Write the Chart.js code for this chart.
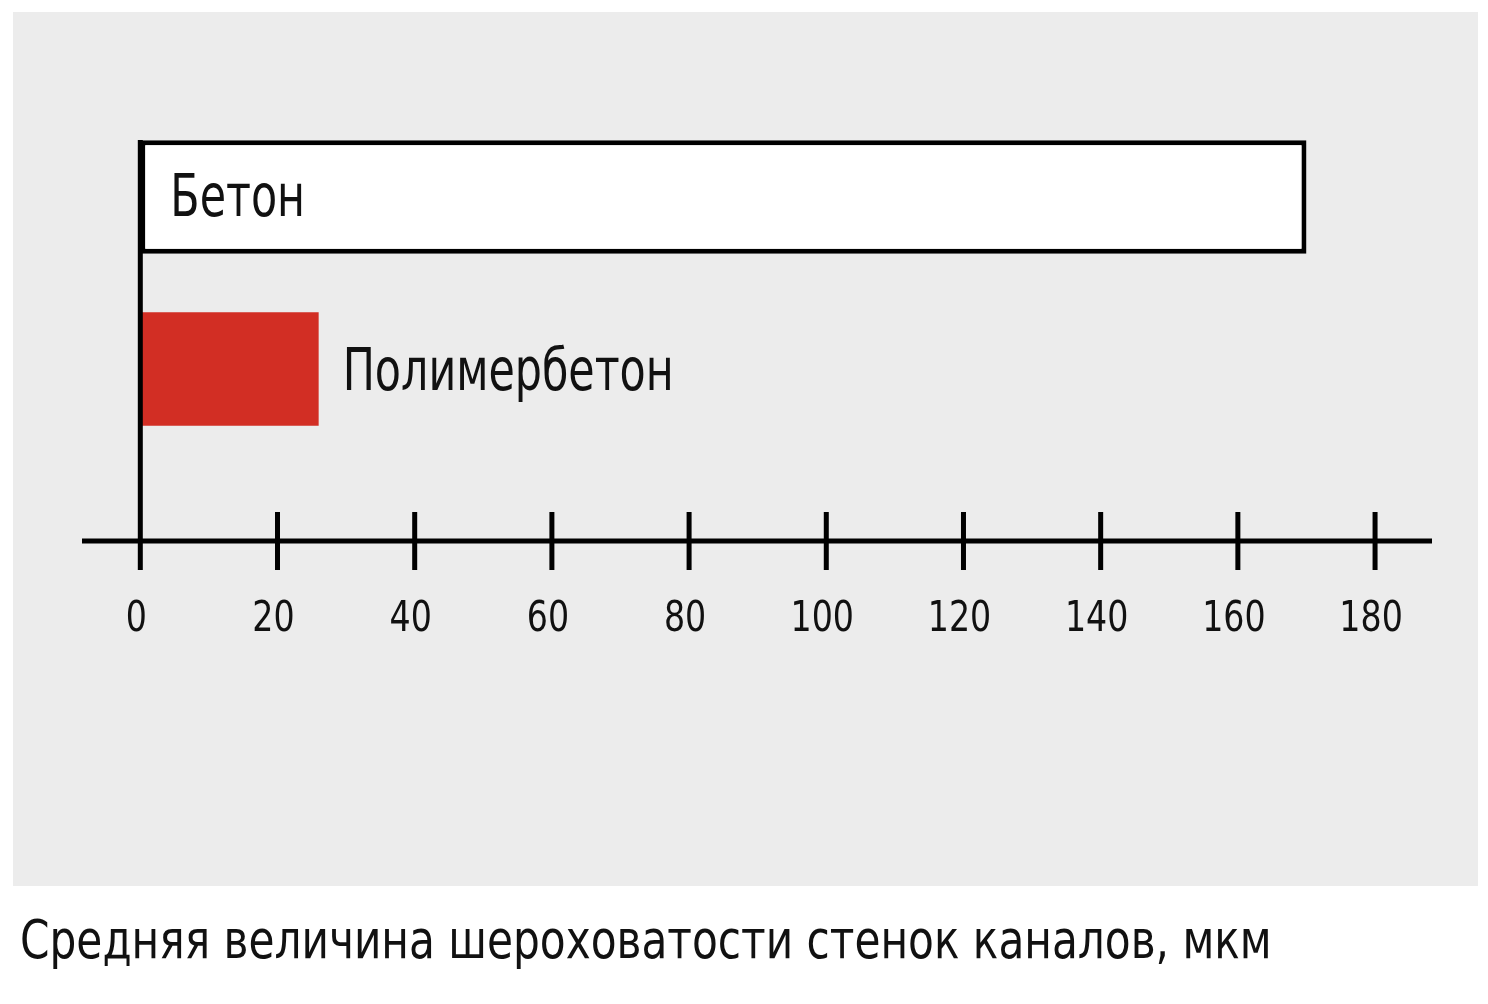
<!DOCTYPE html>
<html><head><meta charset="utf-8">
<script src="https://cdn.jsdelivr.net/npm/chart.js@4.4.0/dist/chart.umd.min.js"></script>
<style>
body{margin:0;background:#fff;width:1488px;height:1004px;position:relative;font-family:"DejaVu Sans Condensed","Liberation Sans Narrow",sans-serif}
#box{position:absolute;left:13px;top:12px;width:1465px;height:874px;background:#ececec}
#cap{position:absolute;left:20px;top:908px;font-size:54px;color:#111;transform:scaleX(0.87);transform-origin:left top;white-space:nowrap}
</style></head><body>
<div id="box"><canvas id="c" width="1465" height="874"></canvas></div>
<div id="cap">Средняя величина шероховатости стенок каналов, мкм</div>
<script>
const categories = ['Бетон', 'Полимербетон', ''];
const roughness = [170, 26, null];
const tickValues = [0, 20, 40, 60, 80, 100, 120, 140, 160, 180];

function narrowText(ctx, text, x, y, sx) {
  ctx.save();
  ctx.translate(x, y);
  ctx.scale(sx, 1);
  ctx.fillText(text, 0, 0);
  ctx.restore();
}

const drawAxis = {
  id: 'drawAxis',
  afterDatasetsDraw(chart) {
    const ctx = chart.ctx, x = chart.scales.x, y = chart.scales.y;
    const axisY = y.getPixelForValue(2);
    const x0 = x.getPixelForValue(0);
    ctx.save();
    ctx.strokeStyle = '#000';
    ctx.lineWidth = 5;
    ctx.beginPath();
    ctx.moveTo(chart.chartArea.left, axisY);
    ctx.lineTo(chart.chartArea.right, axisY);
    ctx.moveTo(x0, chart.getDatasetMeta(0).data[0].y - 57);
    ctx.lineTo(x0, axisY + 28);
    tickValues.forEach(v => {
      const px = x.getPixelForValue(v);
      ctx.moveTo(px, axisY - 29);
      ctx.lineTo(px, axisY + 29);
    });
    ctx.stroke();
    ctx.fillStyle = '#111';
    ctx.font = '42px "DejaVu Sans Condensed", sans-serif';
    ctx.textAlign = 'center';
    ctx.textBaseline = 'middle';
    tickValues.forEach(v => narrowText(ctx, String(v), x.getPixelForValue(v) - 4, axisY + 79, 0.88));
    // bar labels
    const m = chart.getDatasetMeta(0).data;
    ctx.font = '58px "DejaVu Sans Condensed", sans-serif';
    ctx.textAlign = 'left';
    narrowText(ctx, categories[0], x0 + 30, m[0].y + 4, 0.82);
    narrowText(ctx, categories[1], m[1].x + 24, m[1].y + 6, 0.82);
    ctx.restore();
  }
};

new Chart(document.getElementById('c'), {
  type: 'bar',
  data: {
    labels: categories,
    datasets: [{
      data: roughness,
      backgroundColor: ['#ffffff', '#d22e24', '#000'],
      borderColor: ['#000', '#d22e24', '#000'],
      borderWidth: [5, 0, 0],
      borderSkipped: false,
      categoryPercentage: 1,
      barPercentage: 0.66
    }]
  },
  options: {
    indexAxis: 'y',
    responsive: false,
    animation: false,
    layout: { padding: { top: 99, bottom: 259, left: 69, right: 46 } },
    scales: {
      x: { display: false, min: -8.5, max: 188.3 },
      y: { display: false }
    },
    plugins: { legend: { display: false }, tooltip: { enabled: false } }
  },
  plugins: [drawAxis]
});
</script>
</body></html>
